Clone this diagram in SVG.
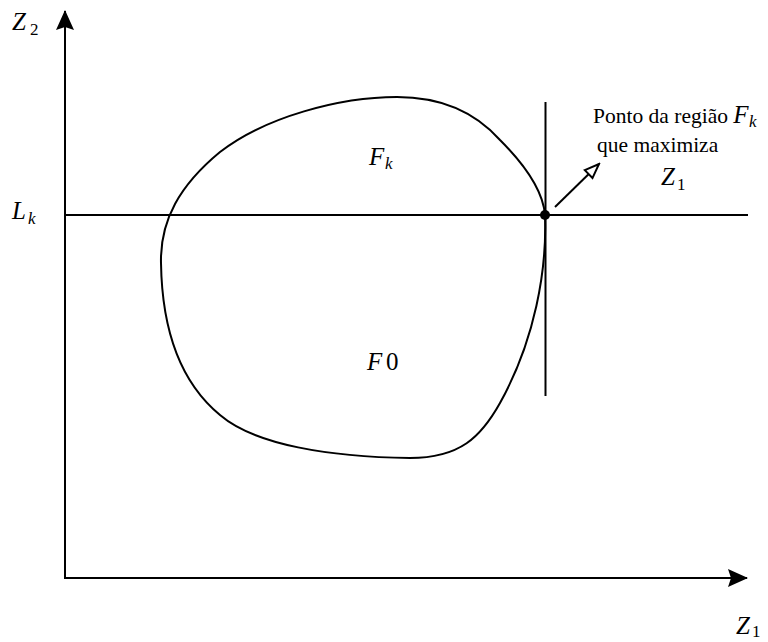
<svg xmlns="http://www.w3.org/2000/svg" width="768" height="642" viewBox="0 0 768 642">
<style>
  .ln { stroke: #000; stroke-width: 2; fill: none; }
  .m { font-family: "Liberation Serif", "DejaVu Serif", serif; font-style: italic; font-size: 25px; fill: #000; }
  .s { font-family: "Liberation Serif", "DejaVu Serif", serif; font-size: 17px; fill: #000; }
  .si { font-family: "Liberation Serif", "DejaVu Serif", serif; font-style: italic; font-size: 17px; fill: #000; }
  .r { font-family: "Liberation Serif", "DejaVu Serif", serif; font-size: 25px; fill: #000; }
  .t { font-family: "Liberation Serif", "DejaVu Serif", serif; font-size: 21.5px; fill: #000; }
</style>
<defs>
  <marker id="solid" viewBox="0 0 20 18" refX="19" refY="9" markerWidth="20" markerHeight="18" markerUnits="userSpaceOnUse" orient="auto">
    <path d="M0,0 L20,9 L0,18 L3,9 Z" fill="#000"/>
  </marker>
  <marker id="open" viewBox="0 0 18 14" refX="16" refY="7" markerWidth="18" markerHeight="14" markerUnits="userSpaceOnUse" orient="auto">
    <path d="M1.5,1.5 L16,7 L1.5,12.5 Z" fill="#fff" stroke="#000" stroke-width="2"/>
  </marker>
</defs>
<rect width="768" height="642" fill="#fff"/>
<g id="connectors">
  <line id="axis-z2" class="ln" x1="65" y1="579" x2="65" y2="11" marker-end="url(#solid)"/>
  <line id="axis-z1" class="ln" x1="64" y1="578" x2="747" y2="578" marker-end="url(#solid)"/>
  <line id="line-lk" class="ln" x1="65" y1="215" x2="748" y2="215"/>
  <line id="line-vert" class="ln" x1="545.5" y1="102" x2="545.5" y2="396"/>
  <line id="arrow-note" class="ln" x1="555" y1="207" x2="599" y2="164" marker-end="url(#open)"/>
</g>
<g id="region">
  <path class="ln" d="M545,215 C547,270 535,340 500,403 C481,437 460,458 410,458 C330,457 255,445 220,415 C180,382 162,330 161,263 C160,220 180,185 220,152 C265,117 340,97 397,97 C440,97 475,112 500,140 C525,165 543,190 545,215 Z"/>
  <circle cx="545" cy="215" r="5" fill="#000"/>
</g>
<g id="label-z2"><text class="m" x="12" y="30">Z</text><text class="s" x="30" y="35">2</text></g>
<g id="label-lk"><text class="m" x="12" y="219">L</text><text class="si" x="28" y="224">k</text></g>
<g id="label-fk"><text class="m" x="369" y="165">F</text><text class="si" x="385" y="169">k</text></g>
<g id="label-f0"><text class="m" x="367" y="370">F</text><text class="r" x="386" y="370">0</text></g>
<g id="label-z1"><text class="m" x="736" y="634">Z</text><text class="s" x="752" y="637">1</text></g>
<g id="note">
  <text class="t" x="593" y="123">Ponto da região <tspan class="m" font-size="23px">F</tspan></text>
  <text class="si" x="749" y="127">k</text>
  <text class="t" x="597" y="152">que maximiza</text>
  <text class="m" x="661" y="185">Z</text><text class="s" x="677" y="190">1</text>
</g>
</svg>
